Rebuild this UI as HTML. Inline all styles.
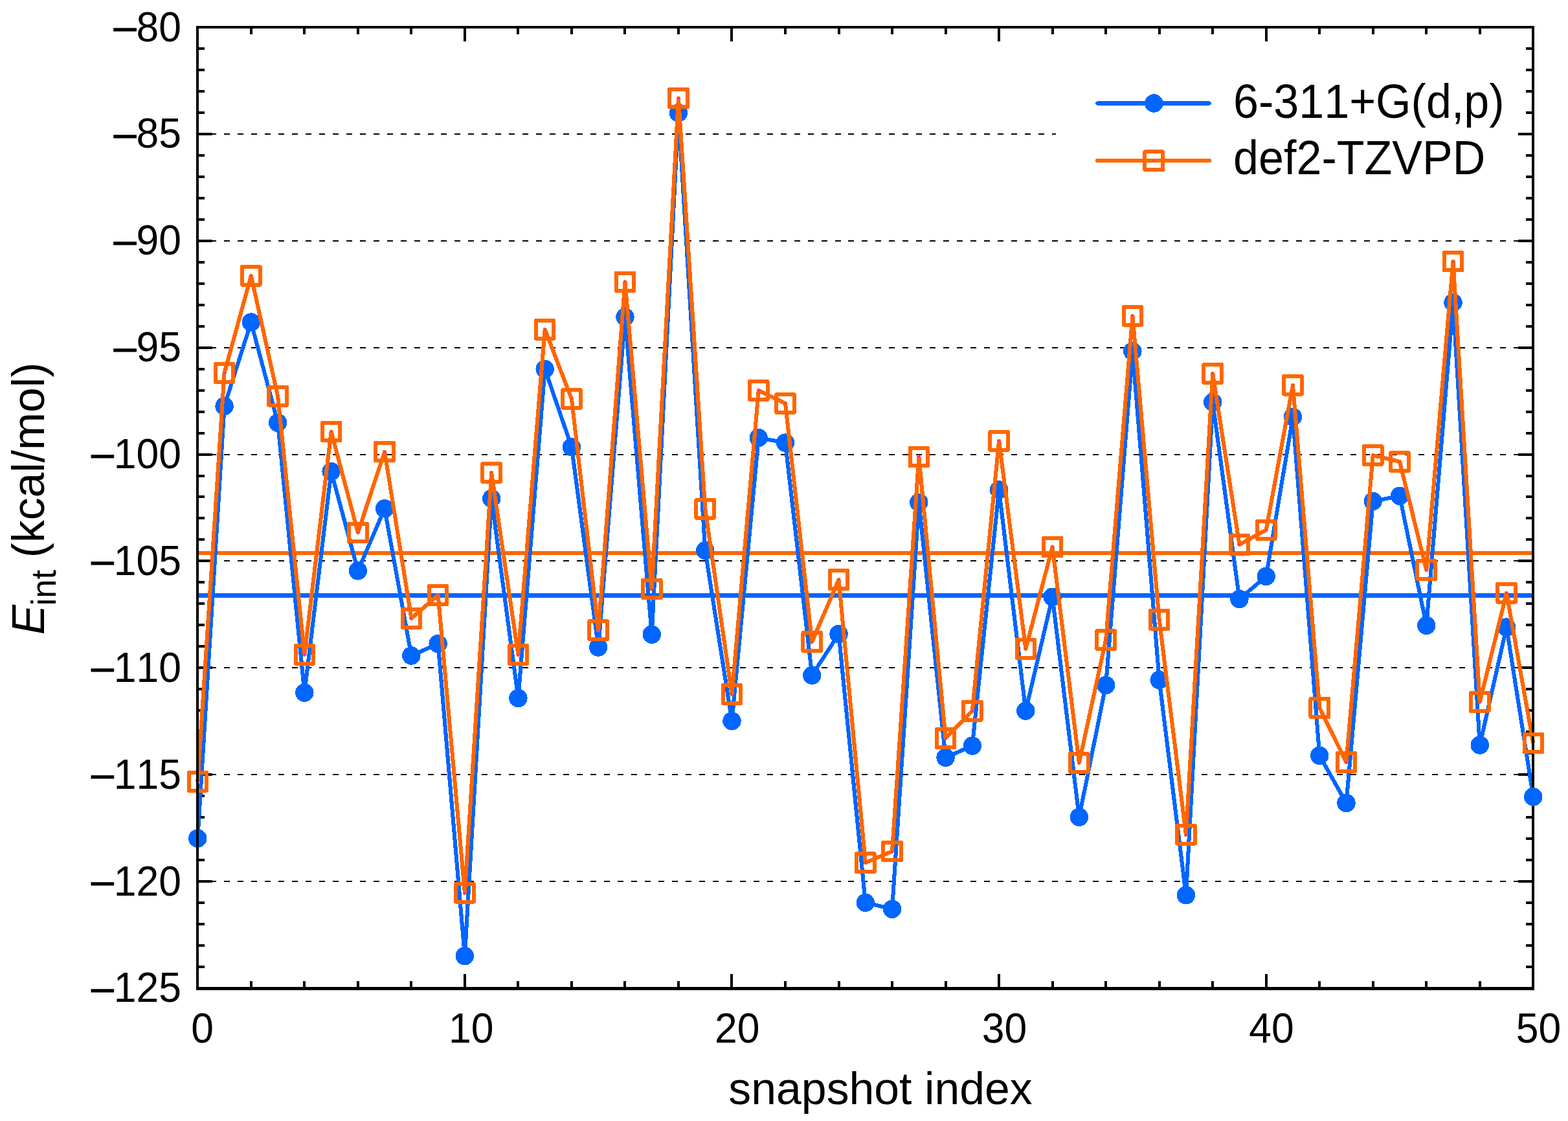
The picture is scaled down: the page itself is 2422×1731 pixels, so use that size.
<!DOCTYPE html>
<html><head><meta charset="utf-8"><title>E_int vs snapshot index</title>
<style>html,body{margin:0;padding:0;background:#fff;overflow:hidden;}svg{display:block;}text{font-kerning:none;font-feature-settings:'kern' 0;}</style>
</head><body>
<svg width="2422" height="1731" viewBox="0 0 2422 1731" shape-rendering="crispEdges">
<rect x="0" y="0" width="2422" height="1731" fill="#fff"/>
<g stroke="#000" stroke-width="2" stroke-dasharray="9 11.967"><line x1="304.07" y1="207.00" x2="1631" y2="207.00"/><line x1="304.07" y1="372.00" x2="2368" y2="372.00"/><line x1="304.07" y1="537.00" x2="2368" y2="537.00"/><line x1="304.07" y1="702.00" x2="2368" y2="702.00"/><line x1="304.07" y1="866.00" x2="2368" y2="866.00"/><line x1="304.07" y1="1031.00" x2="2368" y2="1031.00"/><line x1="304.07" y1="1196.00" x2="2368" y2="1196.00"/><line x1="304.07" y1="1361.00" x2="2368" y2="1361.00"/></g>
<g fill="#000"><rect x="305" y="40" width="23" height="4"/><rect x="2345" y="40" width="23" height="4"/><rect x="305" y="73" width="11" height="4"/><rect x="2357" y="73" width="11" height="4"/><rect x="305" y="106" width="11" height="4"/><rect x="2357" y="106" width="11" height="4"/><rect x="305" y="139" width="11" height="4"/><rect x="2357" y="139" width="11" height="4"/><rect x="305" y="172" width="11" height="4"/><rect x="2357" y="172" width="11" height="4"/><rect x="305" y="205" width="23" height="4"/><rect x="2345" y="205" width="23" height="4"/><rect x="305" y="238" width="11" height="4"/><rect x="2357" y="238" width="11" height="4"/><rect x="305" y="271" width="11" height="4"/><rect x="2357" y="271" width="11" height="4"/><rect x="305" y="304" width="11" height="4"/><rect x="2357" y="304" width="11" height="4"/><rect x="305" y="337" width="11" height="4"/><rect x="2357" y="337" width="11" height="4"/><rect x="305" y="370" width="23" height="4"/><rect x="2345" y="370" width="23" height="4"/><rect x="305" y="403" width="11" height="4"/><rect x="2357" y="403" width="11" height="4"/><rect x="305" y="436" width="11" height="4"/><rect x="2357" y="436" width="11" height="4"/><rect x="305" y="469" width="11" height="4"/><rect x="2357" y="469" width="11" height="4"/><rect x="305" y="502" width="11" height="4"/><rect x="2357" y="502" width="11" height="4"/><rect x="305" y="535" width="23" height="4"/><rect x="2345" y="535" width="23" height="4"/><rect x="305" y="568" width="11" height="4"/><rect x="2357" y="568" width="11" height="4"/><rect x="305" y="601" width="11" height="4"/><rect x="2357" y="601" width="11" height="4"/><rect x="305" y="634" width="11" height="4"/><rect x="2357" y="634" width="11" height="4"/><rect x="305" y="667" width="11" height="4"/><rect x="2357" y="667" width="11" height="4"/><rect x="305" y="700" width="23" height="4"/><rect x="2345" y="700" width="23" height="4"/><rect x="305" y="733" width="11" height="4"/><rect x="2357" y="733" width="11" height="4"/><rect x="305" y="765" width="11" height="4"/><rect x="2357" y="765" width="11" height="4"/><rect x="305" y="798" width="11" height="4"/><rect x="2357" y="798" width="11" height="4"/><rect x="305" y="831" width="11" height="4"/><rect x="2357" y="831" width="11" height="4"/><rect x="305" y="864" width="23" height="4"/><rect x="2345" y="864" width="23" height="4"/><rect x="305" y="897" width="11" height="4"/><rect x="2357" y="897" width="11" height="4"/><rect x="305" y="930" width="11" height="4"/><rect x="2357" y="930" width="11" height="4"/><rect x="305" y="963" width="11" height="4"/><rect x="2357" y="963" width="11" height="4"/><rect x="305" y="996" width="11" height="4"/><rect x="2357" y="996" width="11" height="4"/><rect x="305" y="1029" width="23" height="4"/><rect x="2345" y="1029" width="23" height="4"/><rect x="305" y="1062" width="11" height="4"/><rect x="2357" y="1062" width="11" height="4"/><rect x="305" y="1095" width="11" height="4"/><rect x="2357" y="1095" width="11" height="4"/><rect x="305" y="1128" width="11" height="4"/><rect x="2357" y="1128" width="11" height="4"/><rect x="305" y="1161" width="11" height="4"/><rect x="2357" y="1161" width="11" height="4"/><rect x="305" y="1194" width="23" height="4"/><rect x="2345" y="1194" width="23" height="4"/><rect x="305" y="1227" width="11" height="4"/><rect x="2357" y="1227" width="11" height="4"/><rect x="305" y="1260" width="11" height="4"/><rect x="2357" y="1260" width="11" height="4"/><rect x="305" y="1293" width="11" height="4"/><rect x="2357" y="1293" width="11" height="4"/><rect x="305" y="1326" width="11" height="4"/><rect x="2357" y="1326" width="11" height="4"/><rect x="305" y="1359" width="23" height="4"/><rect x="2345" y="1359" width="23" height="4"/><rect x="305" y="1392" width="11" height="4"/><rect x="2357" y="1392" width="11" height="4"/><rect x="305" y="1425" width="11" height="4"/><rect x="2357" y="1425" width="11" height="4"/><rect x="305" y="1458" width="11" height="4"/><rect x="2357" y="1458" width="11" height="4"/><rect x="305" y="1491" width="11" height="4"/><rect x="2357" y="1491" width="11" height="4"/><rect x="305" y="1524" width="23" height="4"/><rect x="2345" y="1524" width="23" height="4"/><rect x="303" y="1504" width="4" height="22"/><rect x="303" y="42" width="4" height="22"/><rect x="386" y="1515" width="4" height="11"/><rect x="386" y="42" width="4" height="11"/><rect x="468" y="1515" width="4" height="11"/><rect x="468" y="42" width="4" height="11"/><rect x="551" y="1515" width="4" height="11"/><rect x="551" y="42" width="4" height="11"/><rect x="633" y="1515" width="4" height="11"/><rect x="633" y="42" width="4" height="11"/><rect x="716" y="1504" width="4" height="22"/><rect x="716" y="42" width="4" height="22"/><rect x="798" y="1515" width="4" height="11"/><rect x="798" y="42" width="4" height="11"/><rect x="881" y="1515" width="4" height="11"/><rect x="881" y="42" width="4" height="11"/><rect x="963" y="1515" width="4" height="11"/><rect x="963" y="42" width="4" height="11"/><rect x="1046" y="1515" width="4" height="11"/><rect x="1046" y="42" width="4" height="11"/><rect x="1128" y="1504" width="4" height="22"/><rect x="1128" y="42" width="4" height="22"/><rect x="1211" y="1515" width="4" height="11"/><rect x="1211" y="42" width="4" height="11"/><rect x="1294" y="1515" width="4" height="11"/><rect x="1294" y="42" width="4" height="11"/><rect x="1376" y="1515" width="4" height="11"/><rect x="1376" y="42" width="4" height="11"/><rect x="1459" y="1515" width="4" height="11"/><rect x="1459" y="42" width="4" height="11"/><rect x="1541" y="1504" width="4" height="22"/><rect x="1541" y="42" width="4" height="22"/><rect x="1624" y="1515" width="4" height="11"/><rect x="1624" y="42" width="4" height="11"/><rect x="1706" y="1515" width="4" height="11"/><rect x="1706" y="42" width="4" height="11"/><rect x="1789" y="1515" width="4" height="11"/><rect x="1789" y="42" width="4" height="11"/><rect x="1871" y="1515" width="4" height="11"/><rect x="1871" y="42" width="4" height="11"/><rect x="1954" y="1504" width="4" height="22"/><rect x="1954" y="42" width="4" height="22"/><rect x="2036" y="1515" width="4" height="11"/><rect x="2036" y="42" width="4" height="11"/><rect x="2119" y="1515" width="4" height="11"/><rect x="2119" y="42" width="4" height="11"/><rect x="2201" y="1515" width="4" height="11"/><rect x="2201" y="42" width="4" height="11"/><rect x="2284" y="1515" width="4" height="11"/><rect x="2284" y="42" width="4" height="11"/><rect x="2366" y="1504" width="4" height="22"/><rect x="2366" y="42" width="4" height="22"/></g>
<g fill="#000"><rect x="303" y="40" width="2067" height="4"/><rect x="303" y="1524" width="2067" height="4.8"/></g>
<rect x="305" y="916.30" width="2063" height="6.4" fill="#0066ff"/>
<rect x="305" y="850.90" width="2063" height="6.2" fill="#ff6600"/>
<polyline points="305.30,1294.60 346.56,627.20 387.82,497.50 429.08,652.80 470.34,1069.60 511.60,728.00 552.86,881.40 594.12,785.40 635.38,1012.50 676.64,994.00 717.90,1476.10 759.16,769.80 800.42,1078.00 841.68,569.90 882.94,690.30 924.20,999.50 965.46,489.50 1006.72,979.70 1047.98,174.20 1089.24,849.90 1130.50,1113.40 1171.76,676.00 1213.02,683.60 1254.28,1042.80 1295.54,979.00 1336.80,1393.80 1378.06,1403.80 1419.32,775.70 1460.58,1169.80 1501.84,1151.60 1543.10,756.30 1584.36,1097.60 1625.62,921.70 1666.88,1261.70 1708.14,1058.00 1749.40,542.50 1790.66,1050.00 1831.92,1382.30 1873.18,621.00 1914.44,925.00 1955.70,890.00 1996.96,643.80 2038.22,1166.70 2079.48,1240.00 2120.74,774.00 2162.00,765.80 2203.26,965.90 2244.52,467.40 2285.78,1150.50 2327.04,968.50 2368.30,1230.40" fill="none" stroke="#0066ff" stroke-width="6.1" stroke-linejoin="round"/>
<g fill="#0066ff"><circle cx="305.30" cy="1294.60" r="14.2"/><circle cx="346.56" cy="627.20" r="14.2"/><circle cx="387.82" cy="497.50" r="14.2"/><circle cx="429.08" cy="652.80" r="14.2"/><circle cx="470.34" cy="1069.60" r="14.2"/><circle cx="511.60" cy="728.00" r="14.2"/><circle cx="552.86" cy="881.40" r="14.2"/><circle cx="594.12" cy="785.40" r="14.2"/><circle cx="635.38" cy="1012.50" r="14.2"/><circle cx="676.64" cy="994.00" r="14.2"/><circle cx="717.90" cy="1476.10" r="14.2"/><circle cx="759.16" cy="769.80" r="14.2"/><circle cx="800.42" cy="1078.00" r="14.2"/><circle cx="841.68" cy="569.90" r="14.2"/><circle cx="882.94" cy="690.30" r="14.2"/><circle cx="924.20" cy="999.50" r="14.2"/><circle cx="965.46" cy="489.50" r="14.2"/><circle cx="1006.72" cy="979.70" r="14.2"/><circle cx="1047.98" cy="174.20" r="14.2"/><circle cx="1089.24" cy="849.90" r="14.2"/><circle cx="1130.50" cy="1113.40" r="14.2"/><circle cx="1171.76" cy="676.00" r="14.2"/><circle cx="1213.02" cy="683.60" r="14.2"/><circle cx="1254.28" cy="1042.80" r="14.2"/><circle cx="1295.54" cy="979.00" r="14.2"/><circle cx="1336.80" cy="1393.80" r="14.2"/><circle cx="1378.06" cy="1403.80" r="14.2"/><circle cx="1419.32" cy="775.70" r="14.2"/><circle cx="1460.58" cy="1169.80" r="14.2"/><circle cx="1501.84" cy="1151.60" r="14.2"/><circle cx="1543.10" cy="756.30" r="14.2"/><circle cx="1584.36" cy="1097.60" r="14.2"/><circle cx="1625.62" cy="921.70" r="14.2"/><circle cx="1666.88" cy="1261.70" r="14.2"/><circle cx="1708.14" cy="1058.00" r="14.2"/><circle cx="1749.40" cy="542.50" r="14.2"/><circle cx="1790.66" cy="1050.00" r="14.2"/><circle cx="1831.92" cy="1382.30" r="14.2"/><circle cx="1873.18" cy="621.00" r="14.2"/><circle cx="1914.44" cy="925.00" r="14.2"/><circle cx="1955.70" cy="890.00" r="14.2"/><circle cx="1996.96" cy="643.80" r="14.2"/><circle cx="2038.22" cy="1166.70" r="14.2"/><circle cx="2079.48" cy="1240.00" r="14.2"/><circle cx="2120.74" cy="774.00" r="14.2"/><circle cx="2162.00" cy="765.80" r="14.2"/><circle cx="2203.26" cy="965.90" r="14.2"/><circle cx="2244.52" cy="467.40" r="14.2"/><circle cx="2285.78" cy="1150.50" r="14.2"/><circle cx="2327.04" cy="968.50" r="14.2"/><circle cx="2368.30" cy="1230.40" r="14.2"/></g>
<polyline points="305.30,1206.90 346.56,576.00 387.82,425.80 429.08,611.80 470.34,1010.80 511.60,666.50 552.86,822.30 594.12,697.60 635.38,954.90 676.64,918.90 717.90,1378.70 759.16,730.00 800.42,1010.80 841.68,508.80 882.94,616.00 924.20,973.10 965.46,435.30 1006.72,909.60 1047.98,151.50 1089.24,785.80 1130.50,1072.10 1171.76,602.90 1213.02,622.90 1254.28,991.00 1295.54,895.00 1336.80,1332.10 1378.06,1314.60 1419.32,705.40 1460.58,1139.90 1501.84,1097.70 1543.10,680.90 1584.36,1001.90 1625.62,844.60 1666.88,1177.90 1708.14,988.00 1749.40,487.70 1790.66,956.90 1831.92,1288.70 1873.18,576.90 1914.44,840.90 1955.70,818.40 1996.96,594.80 2038.22,1093.00 2079.48,1176.80 2120.74,703.00 2162.00,712.90 2203.26,880.10 2244.52,403.60 2285.78,1084.00 2327.04,915.70 2368.30,1147.60" fill="none" stroke="#ff6600" stroke-width="6.1" stroke-linejoin="round"/>
<g fill="#ff00ff"><rect x="304" y="1206" width="2" height="2"/><rect x="346" y="575" width="2" height="2"/><rect x="387" y="425" width="2" height="2"/><rect x="428" y="611" width="2" height="2"/><rect x="469" y="1010" width="2" height="2"/><rect x="511" y="665" width="2" height="2"/><rect x="552" y="821" width="2" height="2"/><rect x="593" y="697" width="2" height="2"/><rect x="634" y="954" width="2" height="2"/><rect x="676" y="918" width="2" height="2"/><rect x="717" y="1378" width="2" height="2"/><rect x="758" y="729" width="2" height="2"/><rect x="799" y="1010" width="2" height="2"/><rect x="841" y="508" width="2" height="2"/><rect x="882" y="615" width="2" height="2"/><rect x="923" y="972" width="2" height="2"/><rect x="964" y="434" width="2" height="2"/><rect x="1006" y="909" width="2" height="2"/><rect x="1047" y="151" width="2" height="2"/><rect x="1088" y="785" width="2" height="2"/><rect x="1129" y="1071" width="2" height="2"/><rect x="1171" y="602" width="2" height="2"/><rect x="1212" y="622" width="2" height="2"/><rect x="1253" y="990" width="2" height="2"/><rect x="1295" y="894" width="2" height="2"/><rect x="1336" y="1331" width="2" height="2"/><rect x="1377" y="1314" width="2" height="2"/><rect x="1418" y="704" width="2" height="2"/><rect x="1460" y="1139" width="2" height="2"/><rect x="1501" y="1097" width="2" height="2"/><rect x="1542" y="680" width="2" height="2"/><rect x="1583" y="1001" width="2" height="2"/><rect x="1625" y="844" width="2" height="2"/><rect x="1666" y="1177" width="2" height="2"/><rect x="1707" y="987" width="2" height="2"/><rect x="1748" y="487" width="2" height="2"/><rect x="1790" y="956" width="2" height="2"/><rect x="1831" y="1288" width="2" height="2"/><rect x="1872" y="576" width="2" height="2"/><rect x="1913" y="840" width="2" height="2"/><rect x="1955" y="817" width="2" height="2"/><rect x="1996" y="594" width="2" height="2"/><rect x="2037" y="1092" width="2" height="2"/><rect x="2078" y="1176" width="2" height="2"/><rect x="2120" y="702" width="2" height="2"/><rect x="2161" y="712" width="2" height="2"/><rect x="2202" y="879" width="2" height="2"/><rect x="2244" y="403" width="2" height="2"/><rect x="2285" y="1083" width="2" height="2"/><rect x="2326" y="915" width="2" height="2"/><rect x="2367" y="1147" width="2" height="2"/></g>
<rect x="2366" y="40" width="4" height="1489" fill="#000"/>
<g fill="none" stroke="#ff6600" stroke-width="6.0" stroke-linejoin="round"><rect x="291.50" y="1193.10" width="27.6" height="27.6"/><rect x="332.76" y="562.20" width="27.6" height="27.6"/><rect x="374.02" y="412.00" width="27.6" height="27.6"/><rect x="415.28" y="598.00" width="27.6" height="27.6"/><rect x="456.54" y="997.00" width="27.6" height="27.6"/><rect x="497.80" y="652.70" width="27.6" height="27.6"/><rect x="539.06" y="808.50" width="27.6" height="27.6"/><rect x="580.32" y="683.80" width="27.6" height="27.6"/><rect x="621.58" y="941.10" width="27.6" height="27.6"/><rect x="662.84" y="905.10" width="27.6" height="27.6"/><rect x="704.10" y="1364.90" width="27.6" height="27.6"/><rect x="745.36" y="716.20" width="27.6" height="27.6"/><rect x="786.62" y="997.00" width="27.6" height="27.6"/><rect x="827.88" y="495.00" width="27.6" height="27.6"/><rect x="869.14" y="602.20" width="27.6" height="27.6"/><rect x="910.40" y="959.30" width="27.6" height="27.6"/><rect x="951.66" y="421.50" width="27.6" height="27.6"/><rect x="992.92" y="895.80" width="27.6" height="27.6"/><rect x="1034.18" y="137.70" width="27.6" height="27.6"/><rect x="1075.44" y="772.00" width="27.6" height="27.6"/><rect x="1116.70" y="1058.30" width="27.6" height="27.6"/><rect x="1157.96" y="589.10" width="27.6" height="27.6"/><rect x="1199.22" y="609.10" width="27.6" height="27.6"/><rect x="1240.48" y="977.20" width="27.6" height="27.6"/><rect x="1281.74" y="881.20" width="27.6" height="27.6"/><rect x="1323.00" y="1318.30" width="27.6" height="27.6"/><rect x="1364.26" y="1300.80" width="27.6" height="27.6"/><rect x="1405.52" y="691.60" width="27.6" height="27.6"/><rect x="1446.78" y="1126.10" width="27.6" height="27.6"/><rect x="1488.04" y="1083.90" width="27.6" height="27.6"/><rect x="1529.30" y="667.10" width="27.6" height="27.6"/><rect x="1570.56" y="988.10" width="27.6" height="27.6"/><rect x="1611.82" y="830.80" width="27.6" height="27.6"/><rect x="1653.08" y="1164.10" width="27.6" height="27.6"/><rect x="1694.34" y="974.20" width="27.6" height="27.6"/><rect x="1735.60" y="473.90" width="27.6" height="27.6"/><rect x="1776.86" y="943.10" width="27.6" height="27.6"/><rect x="1818.12" y="1274.90" width="27.6" height="27.6"/><rect x="1859.38" y="563.10" width="27.6" height="27.6"/><rect x="1900.64" y="827.10" width="27.6" height="27.6"/><rect x="1941.90" y="804.60" width="27.6" height="27.6"/><rect x="1983.16" y="581.00" width="27.6" height="27.6"/><rect x="2024.42" y="1079.20" width="27.6" height="27.6"/><rect x="2065.68" y="1163.00" width="27.6" height="27.6"/><rect x="2106.94" y="689.20" width="27.6" height="27.6"/><rect x="2148.20" y="699.10" width="27.6" height="27.6"/><rect x="2189.46" y="866.30" width="27.6" height="27.6"/><rect x="2230.72" y="389.80" width="27.6" height="27.6"/><rect x="2271.98" y="1070.20" width="27.6" height="27.6"/><rect x="2313.24" y="901.90" width="27.6" height="27.6"/><rect x="2354.50" y="1133.80" width="27.6" height="27.6"/></g>
<circle cx="2368.30" cy="1230.40" r="14.2" fill="#0066ff"/>
<rect x="303" y="40" width="4" height="1489" fill="#000"/>
<g font-family="'Liberation Sans', sans-serif" font-size="62.5" fill="#000"><text transform="translate(280,63.50) scale(1,1.045)" text-anchor="end"><tspan dy="-1.5" stroke="#000" stroke-width="1">–</tspan><tspan dy="1.5">80</tspan></text><text transform="translate(280,228.38) scale(1,1.045)" text-anchor="end"><tspan dy="-1.5" stroke="#000" stroke-width="1">–</tspan><tspan dy="1.5">85</tspan></text><text transform="translate(280,393.27) scale(1,1.045)" text-anchor="end"><tspan dy="-1.5" stroke="#000" stroke-width="1">–</tspan><tspan dy="1.5">90</tspan></text><text transform="translate(280,558.15) scale(1,1.045)" text-anchor="end"><tspan dy="-1.5" stroke="#000" stroke-width="1">–</tspan><tspan dy="1.5">95</tspan></text><text transform="translate(280,723.04) scale(1,1.045)" text-anchor="end"><tspan dy="-1.5" stroke="#000" stroke-width="1">–</tspan><tspan dy="1.5">100</tspan></text><text transform="translate(280,887.92) scale(1,1.045)" text-anchor="end"><tspan dy="-1.5" stroke="#000" stroke-width="1">–</tspan><tspan dy="1.5">105</tspan></text><text transform="translate(280,1052.81) scale(1,1.045)" text-anchor="end"><tspan dy="-1.5" stroke="#000" stroke-width="1">–</tspan><tspan dy="1.5">110</tspan></text><text transform="translate(280,1217.69) scale(1,1.045)" text-anchor="end"><tspan dy="-1.5" stroke="#000" stroke-width="1">–</tspan><tspan dy="1.5">115</tspan></text><text transform="translate(280,1382.58) scale(1,1.045)" text-anchor="end"><tspan dy="-1.5" stroke="#000" stroke-width="1">–</tspan><tspan dy="1.5">120</tspan></text><text transform="translate(280,1547.46) scale(1,1.045)" text-anchor="end"><tspan dy="-1.5" stroke="#000" stroke-width="1">–</tspan><tspan dy="1.5">125</tspan></text><text transform="translate(312.60,1610.2) scale(1,1.045)" text-anchor="middle">0</text><text transform="translate(727.70,1610.2) scale(1,1.045)" text-anchor="middle">10</text><text transform="translate(1138.80,1610.2) scale(1,1.045)" text-anchor="middle">20</text><text transform="translate(1551.40,1610.2) scale(1,1.045)" text-anchor="middle">30</text><text transform="translate(1964.00,1610.2) scale(1,1.045)" text-anchor="middle">40</text><text transform="translate(2376.60,1610.2) scale(1,1.045)" text-anchor="middle">50</text></g>
<text transform="translate(1360,1705) scale(0.983,1)" text-anchor="middle" font-family="'Liberation Sans', sans-serif" font-size="71">snapshot index</text>
<text transform="translate(68,770) rotate(-90) scale(0.98,1)" text-anchor="middle" font-family="'Liberation Sans', sans-serif" font-size="71"><tspan font-style="italic">E</tspan><tspan font-size="53.5" dx="-1.5" dy="18">int</tspan><tspan dx="-0.5" dy="-18"> (kcal/mol)</tspan></text>
<line x1="1695" y1="159.5" x2="1868" y2="159.5" stroke="#0066ff" stroke-width="6.1" stroke-linecap="round"/>
<circle cx="1782.3" cy="159.5" r="14.2" fill="#0066ff"/>
<line x1="1695" y1="248.2" x2="1868" y2="248.2" stroke="#ff6600" stroke-width="6.1" stroke-linecap="round"/>
<rect x="1768.40" y="234.40" width="27.6" height="27.6" fill="none" stroke="#ff6600" stroke-width="6.0" stroke-linejoin="round"/>
<rect x="1781.2" y="247.2" width="2" height="2" fill="#ff00ff"/>
<g font-family="'Liberation Sans', sans-serif" font-size="71" fill="#000"><text transform="translate(1905,181.6) scale(0.987,1.04)">6-311+G(d,p)</text><text transform="translate(1905,268.8) scale(0.987,1.035)">def2-TZVPD</text></g>
</svg>
</body></html>
